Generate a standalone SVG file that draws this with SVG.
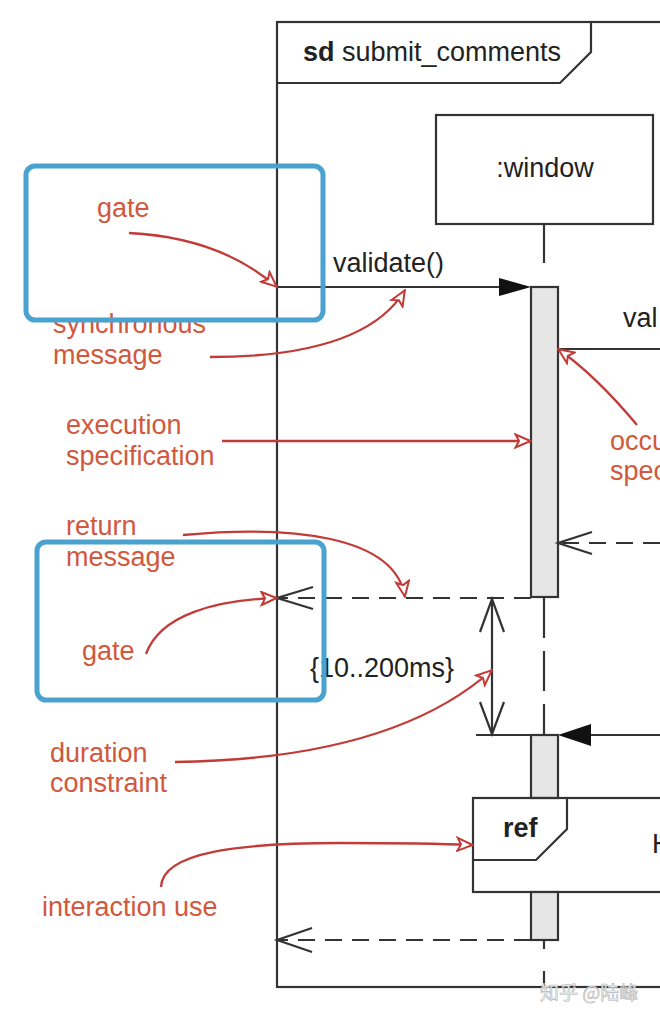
<svg xmlns="http://www.w3.org/2000/svg" width="660" height="1020" viewBox="0 0 660 1020">
<style>
.ln{stroke:#333;stroke-width:2.2;fill:none}
.dash{stroke:#333;stroke-width:2.2;fill:none;stroke-dasharray:17 10}
.life{stroke:#333;stroke-width:2.2;fill:none}
.exec{fill:#e6e6e6;stroke:#333;stroke-width:2.2}
.txt{font-family:"Liberation Sans",Arial,sans-serif;font-size:27px;fill:#222}
.note{font-family:"Liberation Sans",Arial,sans-serif;font-size:27px;fill:#d2583d}
.red{stroke:#c23b36;stroke-width:2.3;fill:none;marker-end:url(#hollow)}
.blue{fill:none;stroke:#4aa2cf;stroke-width:5}
</style>
<defs>
<marker id="hollow" viewBox="0 0 18 16" refX="17" refY="8" markerWidth="18" markerHeight="16" markerUnits="userSpaceOnUse" orient="auto">
<path d="M1.5,1.5 L16.5,8 L1.5,14.5 L5,8 Z" fill="#fff" stroke="#c23b36" stroke-width="2" stroke-linejoin="miter"/>
</marker>
</defs>
<rect width="660" height="1020" fill="#fff"/>

<g id="frame">
<rect x="277" y="22" width="450" height="965" class="ln"/>
<path d="M277,83 L560,83 L591,52 L591,22" class="ln"/>
<text x="303" y="61" class="txt"><tspan font-weight="bold">sd</tspan> submit_comments</text>
</g>

<g id="window">
<rect x="436" y="115" width="217" height="109" fill="#fff" class="ln"/>
<text x="545" y="177" class="txt" text-anchor="middle">:window</text>
</g>

<g id="lifeline">
<line x1="544" y1="224" x2="544" y2="263" class="life"/>
<line x1="544" y1="598" x2="544" y2="735" class="life" stroke-dasharray="40 13"/>
<line x1="544" y1="941" x2="544" y2="949" class="life"/>
<line x1="544" y1="971" x2="544" y2="987" class="life"/>
</g>

<g id="exec1"><rect x="531" y="287" width="27" height="310" class="exec"/></g>

<g id="connectors">
<line x1="277" y1="287" x2="502" y2="287" class="ln"/>
<path d="M531,287 L499,278 L499,296 Z" fill="#111"/>
<text x="333" y="272" class="txt">validate()</text>
<line x1="558" y1="349" x2="660" y2="349" class="ln"/>
<text x="623" y="327" class="txt">val</text>
<line x1="660" y1="543" x2="560" y2="543" class="dash"/>
<path d="M592,532 L558,543 L592,554" class="ln"/>
<line x1="531" y1="598" x2="279" y2="598" class="dash"/>
<path d="M313,587 L277,598 L313,609" class="ln"/>
<line x1="492" y1="599" x2="492" y2="734" class="ln"/>
<path d="M480,632 L492,599 L504,632" class="ln"/>
<path d="M480,702 L492,734 L504,702" class="ln"/>
<text x="310" y="677" class="txt">{10..200ms}</text>
<line x1="476" y1="735" x2="531" y2="735" class="ln"/>
<line x1="588" y1="735" x2="660" y2="735" class="ln"/>
<path d="M558,735 L591,724 L591,746 Z" fill="#111"/>
<line x1="531" y1="940" x2="279" y2="940" class="dash"/>
<path d="M312,928 L277,940 L312,952" class="ln"/>
</g>

<g id="exec2"><rect x="531" y="735" width="27" height="63" class="exec"/></g>

<g id="ref">
<rect x="473" y="798" width="260" height="94" fill="#fff" class="ln"/>
<path d="M473,860 L536,860 L567,829 L567,798" class="ln"/>
<text x="503" y="837" class="txt" font-weight="bold">ref</text>
<text x="652" y="853" class="txt">H</text>
</g>

<g id="exec3"><rect x="531" y="892" width="27" height="48" class="exec"/></g>

<g id="annotations">
<text x="97" y="217" class="note">gate</text>
<path d="M129,233 C190,236 240,255 277,287" class="red"/>
<text x="53" y="333" class="note">synchronous</text>
<text x="53" y="364" class="note">message</text>
<path d="M210,357 C300,357 375,340 405,290" class="red"/>
<text x="66" y="434" class="note">execution</text>
<text x="66" y="465" class="note">specification</text>
<path d="M222,441 L531,441" class="red"/>
<text x="66" y="535" class="note">return</text>
<text x="66" y="566" class="note">message</text>
<path d="M183,535 C290,525 395,535 405,597" class="red"/>
<text x="82" y="660" class="note">gate</text>
<path d="M146,654 C160,615 215,600 277,598" class="red"/>
<text x="50" y="762" class="note">duration</text>
<text x="50" y="792" class="note">constraint</text>
<path d="M175,762 C320,760 425,730 492,670" class="red"/>
<text x="42" y="916" class="note">interaction use</text>
<path d="M161,887 C162,852 240,843 340,843 C420,843 450,844 473,845" class="red"/>
<text x="610" y="450" class="note">occu</text>
<text x="610" y="480" class="note">spec</text>
<path d="M637,425 C612,395 588,370 558,349" class="red"/>
</g>

<g id="highlights">
<rect x="26" y="166" width="297" height="154" rx="9" class="blue"/>
<rect x="37" y="542" width="287" height="158" rx="9" class="blue"/>
</g>

<text x="540" y="1000" font-family="'Noto Sans CJK SC',sans-serif" font-size="19" fill="#f4f4f4" stroke="#b5b5b5" stroke-width="0.6">知乎 @陆峰</text>
</svg>
